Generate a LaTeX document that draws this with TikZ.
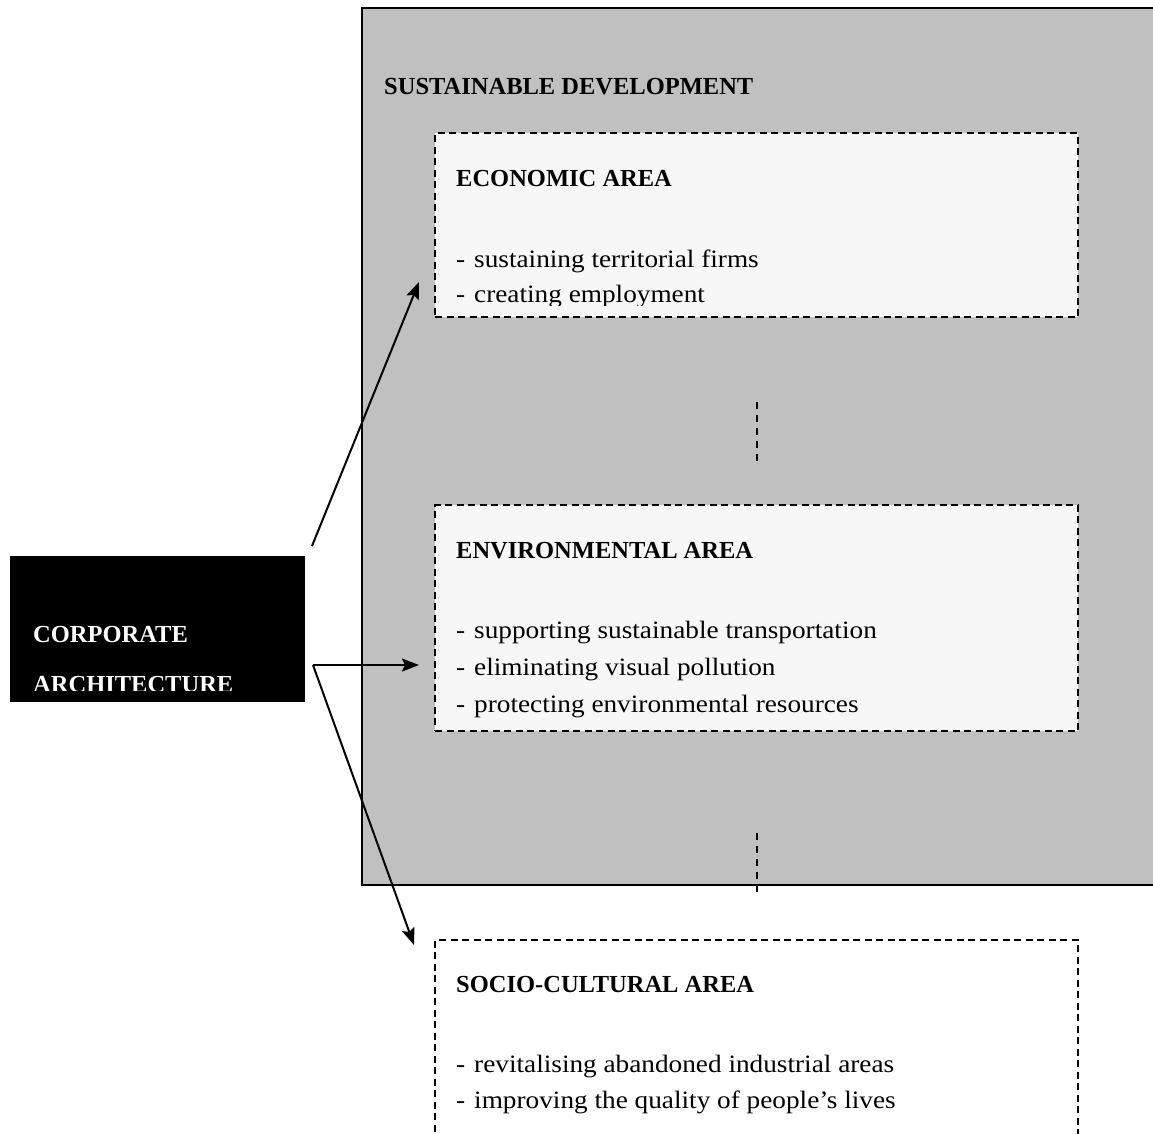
\documentclass[tikz,border=0pt]{standalone}
\usepackage{fontspec}
\setmainfont{Liberation Serif}
\newfontfamily\itemfont[FakeStretch=1.09]{Liberation Serif}
\usetikzlibrary{arrows.meta}
\definecolor{sdgrey}{HTML}{C0C0C0}
\definecolor{areafill}{HTML}{F7F7F7}
\tikzset{
  areabox/.style={draw=black, line width=1.7pt, dash pattern=on 7pt off 4.5pt,
    rectangle, inner sep=0pt, outer sep=0pt, anchor=north west},
  linkline/.style={draw=black, line width=1.7pt, dash pattern=on 7pt off 6pt},
  heading/.style={anchor=base west, inner sep=0pt, font=\fontsize{24.5}{28}\selectfont\bfseries},
  item/.style={anchor=base west, inner sep=0pt, font=\itemfont\fontsize{25}{29}\selectfont},
  arr/.style={line width=2pt, -{Stealth[length=17pt,width=13pt,inset=3pt]}},
}
\begin{document}
\begin{tikzpicture}[x=1pt,y=-1pt]
\useasboundingbox (0,0) rectangle (1153,1133);

% sustainable development frame (open to the right)
\fill[sdgrey] (362,8) rectangle (1160,885);
\draw[line width=2.2pt] (1160,8) -- (362,8) -- (362,885) -- (1160,885);
\node[heading] (sd) at (384,94) {SUSTAINABLE DEVELOPMENT};

% economic area
\node[areabox, fill=areafill, minimum width=643pt, minimum height=184pt] (econ) at (435,133) {};
\node[heading] (econt) at (456,186) {ECONOMIC AREA};
\begin{scope}
  \clip (435,133) rectangle (1078,305);
  \node[item] (e1d) at (456,267) {-};
  \node[item] (e1) at (474,267) {sustaining territorial firms};
  \node[item] (e2d) at (456,302) {-};
  \node[item] (e2) at (474,302) {creating employment};
\end{scope}

% dashed links between areas
\coordinate (l1a) at (757,402);
\coordinate (l1b) at (757,466);
\draw[linkline] (l1a) -- (l1b);

% environmental area
\node[areabox, fill=areafill, minimum width=643pt, minimum height=226pt] (env) at (435,505) {};
\node[heading] (envt) at (456,558) {ENVIRONMENTAL AREA};
\node[item] (v1d) at (456,638) {-};
\node[item] (v1) at (474,638) {supporting sustainable transportation};
\node[item] (v2d) at (456,675) {-};
\node[item] (v2) at (474,675) {eliminating visual pollution};
\node[item] (v3d) at (456,712) {-};
\node[item] (v3) at (474,712) {protecting environmental resources};

\coordinate (l2a) at (757,833);
\coordinate (l2b) at (757,897);
\draw[linkline] (l2a) -- (l2b);

% socio-cultural area (runs past the lower edge)
\node[areabox, fill=white, minimum width=643pt, minimum height=220pt] (soc) at (435,940) {};
\node[heading] (soct) at (456,992) {SOCIO-CULTURAL AREA};
\node[item] (s1d) at (456,1072) {-};
\node[item] (s1) at (474,1072) {revitalising abandoned industrial areas};
\node[item] (s2d) at (456,1108) {-};
\node[item] (s2) at (474,1108) {improving the quality of people’s lives};

% corporate architecture
\node[fill=black, rectangle, inner sep=0pt, anchor=north west,
      minimum width=295pt, minimum height=146pt] (corp) at (10,556) {};
\begin{scope}
  \clip (10,556) rectangle (305,690);
  \node[heading, text=white] (corp1) at (33,642) {CORPORATE};
  \node[heading, text=white] (corp2) at (33,692) {ARCHITECTURE};
\end{scope}

% arrows
\coordinate (c1) at (312,546);
\coordinate (c2) at (313,665);
\coordinate (econtip) at (419,282);
\coordinate (envtip) at (419,665);
\coordinate (soctip) at (414,945);
\draw[arr] (c1) -- (econtip);
\draw[arr] (c2) -- (envtip);
\draw[arr] (c2) -- (soctip);
\end{tikzpicture}
\end{document}
